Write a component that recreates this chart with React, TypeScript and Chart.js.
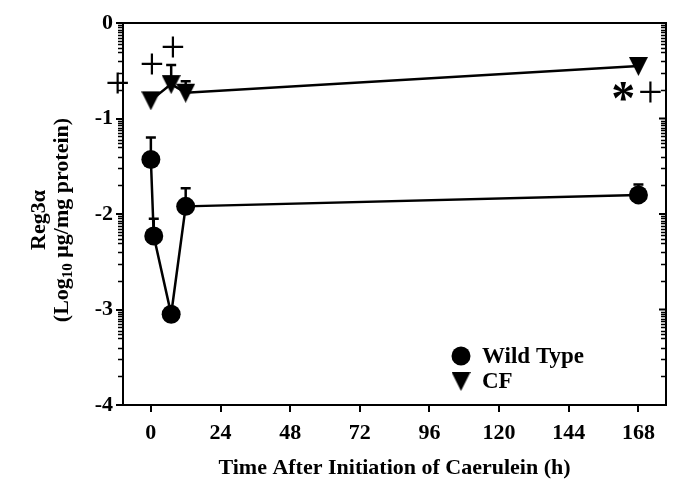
import React, { useEffect, useRef } from "react";
import { Chart, registerables } from "chart.js";

Chart.register(...registerables);

// ---- data ----
const wtTimes = [0, 1, 7, 12, 168];
const wtValues = [-1.43, -2.23, -3.05, -1.92, -1.8];
const wtErrors = [0.23, 0.18, 0, 0.19, 0.11];

const cfTimes = [0, 7, 12, 168];
const cfValues = [-0.81, -0.64, -0.73, -0.45];
const cfErrors = [0, 0.2, 0.12, 0];

const xTickValues = [0, 24, 48, 72, 96, 120, 144, 168];
const yTickValues = [0, -1, -2, -3, -4];

const seriesLabels = ["Wild Type", "CF"];

// significance marks (data coordinates)
const markTexts = ["+", "+", "+", "*", "+"];
const markX = [-11.4, 0.4, 7.6, 162.8, 172.1];
const markY = [-0.63, -0.43, -0.25, -0.72, -0.72];

const xTitle = "Time After Initiation of Caerulein (h)";
const yTitle1 = "Reg3\u03b1";
const yTitle2a = "(Log";
const yTitle2sub = "10";
const yTitle2b = " \u03bcg/mg protein)";

const FONT = "'Liberation Serif', 'Times New Roman', serif";

function makeTriangle(): HTMLCanvasElement {
  const c = document.createElement("canvas");
  c.width = 19;
  c.height = 20;
  const ctx = c.getContext("2d")!;
  ctx.fillStyle = "#000";
  ctx.beginPath();
  ctx.moveTo(0, 1);
  ctx.lineTo(19, 1);
  ctx.lineTo(9.5, 20);
  ctx.closePath();
  ctx.fill();
  return c;
}

export default function App() {
  const ref = useRef<HTMLCanvasElement>(null);

  useEffect(() => {
    const canvas = ref.current!;
    const tri = makeTriangle();

    const errorBars = {
      id: "errorBars",
      beforeDatasetsDraw(chart: any) {
        const ctx = chart.ctx;
        const xs = chart.scales.x;
        const ys = chart.scales.y;
        const sets = [
          [wtTimes, wtValues, wtErrors],
          [cfTimes, cfValues, cfErrors],
        ];
        ctx.save();
        ctx.strokeStyle = "#000";
        ctx.lineWidth = 2.5;
        sets.forEach(([t, v, e]) => {
          t.forEach((tt: number, i: number) => {
            if (!e[i]) return;
            const px = xs.getPixelForValue(tt);
            const py = ys.getPixelForValue(v[i]);
            const pt = ys.getPixelForValue(v[i] + e[i]);
            ctx.beginPath();
            ctx.moveTo(px, py);
            ctx.lineTo(px, pt);
            ctx.moveTo(px - 5, pt);
            ctx.lineTo(px + 5, pt);
            ctx.stroke();
          });
        });
        ctx.restore();
      },
    };

    const decor = {
      id: "decor",
      afterDraw(chart: any) {
        const ctx = chart.ctx;
        const ca = chart.chartArea;
        const ys = chart.scales.y;
        const xs = chart.scales.x;
        ctx.save();
        ctx.strokeStyle = "#000";
        ctx.fillStyle = "#000";
        // top and right frame
        ctx.lineWidth = 2;
        ctx.beginPath();
        ctx.moveTo(ca.left - 1, ca.top);
        ctx.lineTo(ca.right, ca.top);
        ctx.lineTo(ca.right, ca.bottom + 1);
        ctx.stroke();
        // minor ticks (log-like pattern within each unit)
        const ks = [2, 3, 4, 5, 5.5, 6, 6.5, 7, 7.5, 8, 8.5, 9, 9.5];
        ctx.lineWidth = 1.5;
        for (let top = 0; top > -4; top--) {
          ks.forEach((k) => {
            const v = top - (1 - Math.log10(k));
            const py = Math.round(ys.getPixelForValue(v)) + 0.5;
            ctx.beginPath();
            ctx.moveTo(ca.left - 5, py);
            ctx.lineTo(ca.left, py);
            ctx.moveTo(ca.right - 5, py);
            ctx.lineTo(ca.right, py);
            ctx.stroke();
          });
        }
        // right major ticks
        ctx.lineWidth = 2;
        yTickValues.forEach((v) => {
          const py = ys.getPixelForValue(v);
          ctx.beginPath();
          ctx.moveTo(ca.right - 7, py);
          ctx.lineTo(ca.right, py);
          ctx.stroke();
        });

        // significance marks
        ctx.textAlign = "center";
        ctx.textBaseline = "alphabetic";
        markTexts.forEach((t, i) => {
          ctx.font = t === "*" ? `bold 48px ${FONT}` : `44px ${FONT}`;
          const m = ctx.measureText(t);
          const px = xs.getPixelForValue(markX[i]);
          const py = ys.getPixelForValue(markY[i]);
          const off = (m.actualBoundingBoxAscent - m.actualBoundingBoxDescent) / 2;
          ctx.fillText(t, px, py + off);
        });

        // x title
        ctx.font = `bold 22px ${FONT}`;
        ctx.textAlign = "center";
        ctx.textBaseline = "alphabetic";
        ctx.fillText(xTitle, (ca.left + ca.right) / 2, 474);

        // y title (rotated)
        ctx.save();
        ctx.rotate(-Math.PI / 2);
        const cy = 220;
        ctx.font = `bold 22px ${FONT}`;
        ctx.textAlign = "center";
        ctx.textBaseline = "middle";
        ctx.fillText(yTitle1, -cy, 39);
        // line 2 with subscript
        ctx.textAlign = "left";
        ctx.font = `bold 22px ${FONT}`;
        const wA = ctx.measureText(yTitle2a).width;
        const wB = ctx.measureText(yTitle2b).width;
        ctx.font = `bold 15px ${FONT}`;
        const wS = ctx.measureText(yTitle2sub).width;
        const total = wA + wS + wB;
        let sx = -cy - total / 2;
        const ly = 62;
        ctx.font = `bold 22px ${FONT}`;
        ctx.fillText(yTitle2a, sx, ly);
        sx += wA;
        ctx.font = `bold 15px ${FONT}`;
        ctx.fillText(yTitle2sub, sx, ly + 6);
        sx += wS;
        ctx.font = `bold 22px ${FONT}`;
        ctx.fillText(yTitle2b, sx, ly);
        ctx.restore();

        // legend
        const lx = 461;
        const lys = [356, 381];
        ctx.beginPath();
        ctx.arc(lx, lys[0], 9.5, 0, Math.PI * 2);
        ctx.fill();
        ctx.drawImage(tri, lx - tri.width / 2, lys[1] - tri.height / 2);
        ctx.font = `bold 23px ${FONT}`;
        ctx.textAlign = "left";
        ctx.textBaseline = "middle";
        seriesLabels.forEach((s, i) => ctx.fillText(s, 482, lys[i] + 1));
        ctx.restore();
      },
    };

    const chart = new Chart(canvas, {
      type: "scatter",
      data: {
        datasets: [
          {
            label: seriesLabels[0],
            data: wtTimes.map((t, i) => ({ x: t, y: wtValues[i] })),
            showLine: true,
            borderColor: "#000",
            backgroundColor: "#000",
            borderWidth: 2.5,
            pointStyle: "circle",
            pointRadius: 9.5,
            pointBorderWidth: 0,
            tension: 0,
          },
          {
            label: seriesLabels[1],
            data: cfTimes.map((t, i) => ({ x: t, y: cfValues[i] })),
            showLine: true,
            borderColor: "#000",
            backgroundColor: "#000",
            borderWidth: 2.5,
            pointStyle: tri as any,
            pointRadius: 9,
            tension: 0,
          },
        ],
      },
      options: {
        responsive: false,
        animation: false,
        devicePixelRatio: 1,
        layout: { padding: { top: 23, right: 19, left: 0, bottom: 0 } },
        plugins: { legend: { display: false }, tooltip: { enabled: false } },
        scales: {
          x: {
            type: "linear",
            min: -9.6,
            max: 177.5,
            afterBuildTicks: (s: any) => {
              s.ticks = xTickValues.map((v) => ({ value: v }));
            },
            afterFit: (s: any) => {
              s.height = 82;
            },
            ticks: {
              font: { family: FONT, size: 22, weight: "bold" },
              color: "#000",
              padding: 8,
              maxRotation: 0,
              autoSkip: false,
            },
            grid: {
              drawOnChartArea: false,
              drawTicks: true,
              tickLength: 7,
              color: "#000",
              lineWidth: 2,
            },
            border: { display: true, color: "#000", width: 2 },
          },
          y: {
            type: "linear",
            min: -4,
            max: 0,
            afterBuildTicks: (s: any) => {
              s.ticks = yTickValues.map((v) => ({ value: v }));
            },
            afterFit: (s: any) => {
              s.width = 123;
            },
            ticks: {
              font: { family: FONT, size: 22, weight: "bold" },
              color: "#000",
              padding: 3,
              autoSkip: false,
            },
            grid: {
              drawOnChartArea: false,
              drawTicks: true,
              tickLength: 7,
              color: "#000",
              lineWidth: 2,
            },
            border: { display: true, color: "#000", width: 2 },
          },
        },
      },
      plugins: [errorBars, decor],
    });
    return () => chart.destroy();
  }, []);

  return (
    <canvas
      ref={ref}
      width={685}
      height={487}
      style={{ position: "absolute", left: 0, top: 0, width: 685, height: 487 }}
    />
  );
}
